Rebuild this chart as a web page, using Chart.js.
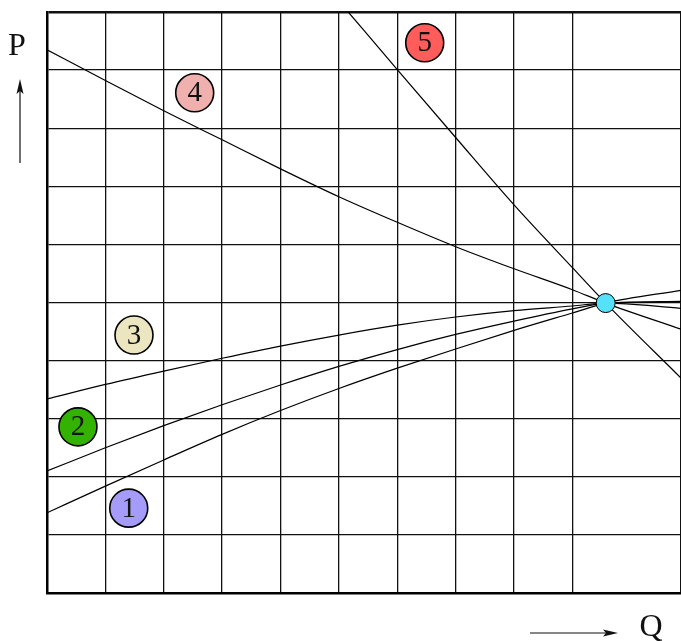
<!DOCTYPE html>
<html>
<head>
<meta charset="utf-8">
<script src="https://cdn.jsdelivr.net/npm/chart.js@4/dist/chart.umd.min.js"></script>
<style>
  html, body { margin: 0; padding: 0; background: #fff; }
  #wrap { width: 681px; height: 641px; position: relative; }
</style>
</head>
<body>
<div id="wrap"><canvas id="c"></canvas></div>
<script>
// ---- data (grid units: Q along x, P along y) ----
const curve1X = [0, 1, 2, 3, 4, 5, 6, 7, 8, 9, 9.57, 10.86];
const curve1Y = [1.38, 1.84, 2.29, 2.73, 3.14, 3.52, 3.87, 4.20, 4.52, 4.82, 4.99, 5.21];

const curve2X = [0, 1, 2, 3, 4, 5, 6, 7, 8, 9, 9.57, 10.86];
const curve2Y = [2.10, 2.50, 2.88, 3.24, 3.58, 3.90, 4.19, 4.45, 4.68, 4.89, 4.99, 5.02];

const curve3X = [0, 1, 2, 3, 4, 5, 6, 7, 8, 9, 9.57, 10.86];
const curve3Y = [3.34, 3.59, 3.82, 4.04, 4.25, 4.44, 4.61, 4.75, 4.86, 4.94, 4.99, 4.90];

const curve4X = [0, 1, 2, 3, 4, 5, 6, 7, 8, 9, 9.57, 10.86];
const curve4Y = [9.35, 8.82, 8.30, 7.80, 7.30, 6.82, 6.38, 5.96, 5.58, 5.22, 4.99, 4.54];

const curve5X = [5.16, 6, 7, 8, 9, 9.57, 10.86];
const curve5Y = [10.0, 9.01, 7.84, 6.68, 5.60, 4.99, 3.70];

const markerLabels = ["1", "2", "3", "4", "5"];
const markerX = [1.40, 0.53, 1.49, 2.53, 6.47];
const markerY = [1.46, 2.86, 4.44, 8.61, 9.47];
const markerColors = ["#a59cf9", "#33b300", "#ece6c0", "#efb0ae", "#ff5c5c"];

const pivotX = [9.57];
const pivotY = [4.99];

const xMin = 0, xMax = 10.86, yMin = 0, yMax = 10;
const axisLabelP = "P";
const axisLabelQ = "Q";

// ---- build ----
const toPts = (xs, ys) => xs.map((x, i) => ({ x: x, y: ys[i] }));

function curve(xs, ys) {
  return {
    type: 'line',
    data: toPts(xs, ys),
    borderColor: '#000',
    borderWidth: 1.2,
    pointRadius: 0,
    fill: false,
    cubicInterpolationMode: 'monotone',
    order: 5
  };
}

const overlay = {
  id: 'overlay',
  afterDatasetsDraw(chart) {
    const ctx = chart.ctx;
    const meta = chart.getDatasetMeta(0);
    ctx.save();
    ctx.fillStyle = '#111';
    ctx.font = '29px "Liberation Serif", "DejaVu Serif", serif';
    ctx.textAlign = 'center';
    ctx.textBaseline = 'middle';
    meta.data.forEach((el, i) => {
      ctx.fillText(markerLabels[i], el.x, el.y + 1);
    });
    ctx.restore();
  },
  afterDraw(chart) {
    const ctx = chart.ctx;
    const a = chart.chartArea;
    ctx.save();
    ctx.fillStyle = '#111';
    ctx.strokeStyle = '#111';
    ctx.font = '32px "Liberation Serif", "DejaVu Serif", serif';
    ctx.textAlign = 'center';
    ctx.textBaseline = 'alphabetic';
    // P label and upward arrow
    const px = a.left - 27;
    ctx.fillText(axisLabelP, px - 3, a.top + 43);
    ctx.lineWidth = 1.2;
    ctx.beginPath();
    ctx.moveTo(px, a.top + 151);
    ctx.lineTo(px, a.top + 72);
    ctx.stroke();
    ctx.beginPath();
    ctx.moveTo(px, a.top + 67);
    ctx.lineTo(px - 3.5, a.top + 82);
    ctx.lineTo(px, a.top + 79);
    ctx.lineTo(px + 3.5, a.top + 82);
    ctx.closePath();
    ctx.fill();
    // Q label and right arrow
    const qy = a.bottom + 40;
    ctx.fillText(axisLabelQ, 651, a.bottom + 43);
    ctx.beginPath();
    ctx.moveTo(530, qy);
    ctx.lineTo(612, qy);
    ctx.stroke();
    ctx.beginPath();
    ctx.moveTo(618, qy);
    ctx.lineTo(603, qy - 3.5);
    ctx.lineTo(606, qy);
    ctx.lineTo(603, qy + 3.5);
    ctx.closePath();
    ctx.fill();
    ctx.restore();
  }
};

new Chart(document.getElementById('c'), {
  type: 'scatter',
  data: {
    datasets: [
      {
        data: toPts(markerX, markerY),
        pointRadius: 19,
        pointHoverRadius: 19,
        pointBackgroundColor: markerColors,
        pointBorderColor: '#000',
        pointBorderWidth: 1.6,
        showLine: false,
        order: 1
      },
      {
        data: toPts(pivotX, pivotY),
        pointRadius: 9.5,
        pointHoverRadius: 9.5,
        pointBackgroundColor: '#55e1f9',
        pointBorderColor: '#000',
        pointBorderWidth: 1,
        showLine: false,
        order: 2
      },
      curve(curve1X, curve1Y),
      curve(curve2X, curve2Y),
      curve(curve3X, curve3Y),
      curve(curve4X, curve4Y),
      curve(curve5X, curve5Y)
    ]
  },
  options: {
    responsive: true,
    maintainAspectRatio: false,
    animation: false,
    events: [],
    layout: { autoPadding: false, padding: { left: 47, top: 12, right: 0, bottom: 48 } },
    plugins: { legend: { display: false }, tooltip: { enabled: false }, title: { display: false } },
    scales: {
      x: {
        type: 'linear',
        min: xMin, max: xMax,
        ticks: { display: false, stepSize: 1 },
        grid: { color: '#111', lineWidth: 1.3, drawTicks: false },
        border: { display: true, color: '#000', width: 2.5 }
      },
      y: {
        type: 'linear',
        min: yMin, max: yMax,
        ticks: { display: false, stepSize: 1 },
        grid: {
          color: '#111',
          lineWidth: (c) => (c.tick && c.tick.value === yMax ? 2.4 : 1.3),
          drawTicks: false
        },
        border: { display: true, color: '#000', width: 2.5 }
      }
    }
  },
  plugins: [overlay]
});
</script>
</body>
</html>
